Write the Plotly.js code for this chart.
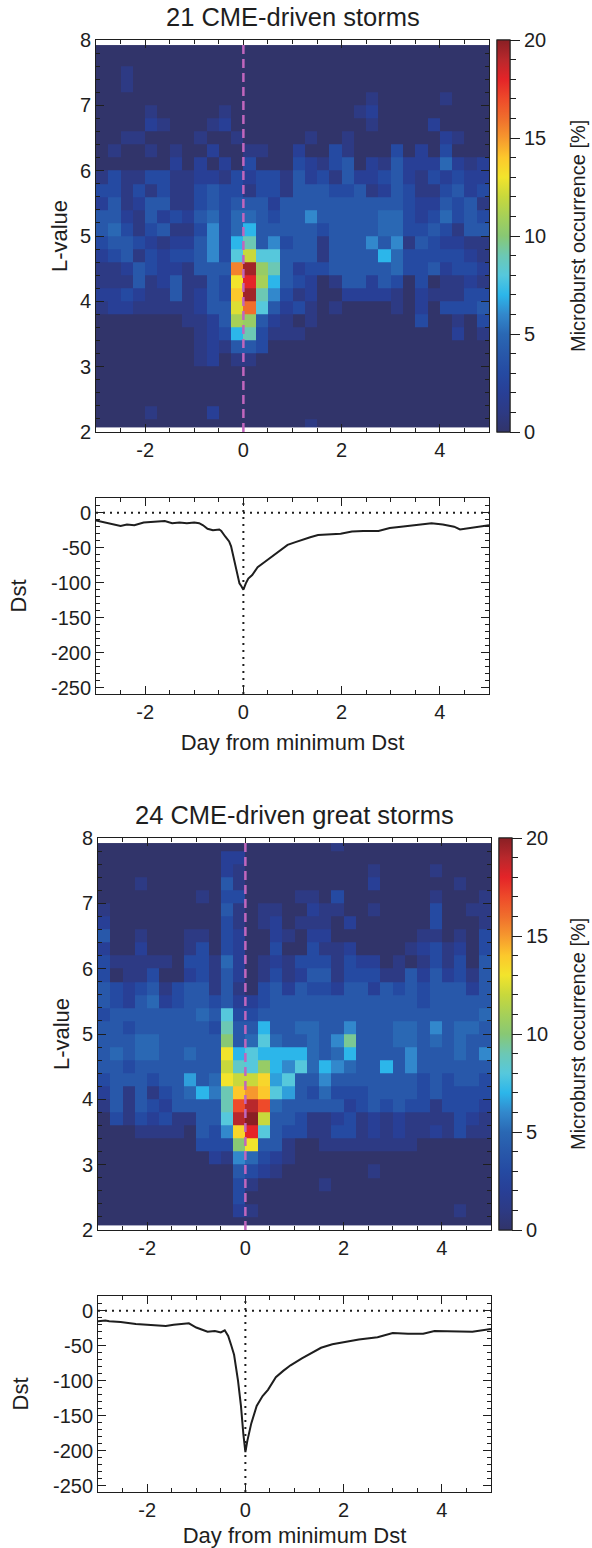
<!DOCTYPE html>
<html><head><meta charset="utf-8">
<script src="https://cdn.plot.ly/plotly-3.0.1.min.js"></script>
<style>html,body{margin:0;padding:0;background:#fff}#chart{width:592px;height:1548px}</style>
</head><body><div id="chart"></div>
<script>
// ---------------- DATA ----------------
const panelTitles = ['21 CME-driven storms', '24 CME-driven great storms'];
const colorbarTitle = 'Microburst occurrence [%]';
const dayBinEdges = [-3,-2.75,-2.5,-2.25,-2,-1.75,-1.5,-1.25,-1,-0.75,-0.5,-0.25,0,0.25,0.5,0.75,1,1.25,1.5,1.75,2,2.25,2.5,2.75,3,3.25,3.5,3.75,4,4.25,4.5,4.75,5];
const lBinEdges = [2.08,2.2,2.4,2.6,2.8,3.0,3.2,3.4,3.6,3.8,4.0,4.2,4.4,4.6,4.8,5.0,5.2,5.4,5.6,5.8,6.0,6.2,6.4,6.6,6.8,7.0,7.2,7.4,7.6,7.8,7.92];
const minDstDay = 0;

// microburst occurrence [%], rows listed from highest L (top) to lowest L (bottom)
const stormOccurrenceTopDown = [
[0,0,0,0,0,0,0,0,0,0,0,0,0,0,0,0, 0,0,0,0,0,0,0,0,0,0,0,0,0,0,0,0],
[0,0,0,0,0,0,0,0,0,0,0,0,0,0,0,0, 0,0,0,0,0,0,0,0,0,0,0,0,0,0,0,0],
[0,0,1,0,0,0,0,0,0,0,0,0,0,0,0,0, 0,0,0,0,0,0,0,0,0,0,0,0,0,0,0,0],
[0,0,1,0,0,0,0,0,0,0,0,0,0,0,0,0, 0,0,0,0,0,0,0,0,0,0,0,0,0,0,0,0],
[0,0,0,0,0,0,0,0,0,0,0,0,0,0,0,0, 0,0,0,0,0,0,1,0,0,0,0,0,1,0,0,0],
[0,0,0,0,1,0,0,0,0,0,1,0,0,0,0,0, 0,0,0,0,0,1,2,0,0,0,0,0,0,0,0,0],
[0,0,0,0,2,1,0,0,0,1,2,0,0,0,0,0, 0,0,0,0,0,0,1,0,0,0,0,2,0,0,0,0],
[0,0,1,1,0,0,0,0,1,0,0,1,0,0,0,0, 0,1,0,0,1,0,0,0,0,0,0,0,2,1,0,0],
[0,1,0,0,1,0,1,0,0,2,0,0,1,1,0,0, 2,0,0,3,1,0,0,0,3,0,2,0,3,0,0,0],
[0,0,0,0,0,0,2,0,2,0,2,0,3,0,0,0, 3,2,1,3,4,0,2,1,4,2,2,2,5,2,1,2],
[1,3,1,1,3,3,1,1,2,2,1,3,2,3,3,1, 4,2,3,1,4,2,2,3,4,2,1,3,2,3,2,2],
[3,3,1,3,1,3,1,1,3,4,3,3,1,3,3,1, 4,4,4,3,3,4,1,2,4,3,1,1,3,4,2,3],
[2,4,1,2,4,4,1,1,3,4,3,4,4,4,2,4, 4,4,4,4,4,4,4,4,4,3,2,2,4,3,4,1],
[4,4,2,1,4,2,3,2,4,5,3,5,5,4,3,4, 4,6,4,4,4,4,4,5,5,3,2,3,5,3,4,3],
[4,5,3,1,3,4,1,1,3,6,3,5,7,4,4,4, 4,4,3,4,4,4,4,5,5,3,3,4,3,1,4,4],
[3,4,4,3,2,1,2,2,4,6,3,7,9,4,6,3, 4,4,1,4,4,4,6,4,6,1,4,3,2,2,1,1],
[2,3,4,1,3,2,3,3,4,6,3,8,12,8,8,4, 4,4,1,4,4,4,4,7,5,3,3,3,3,3,2,1],
[1,1,2,4,3,2,2,1,4,4,4,15.5,19.5,10.5,9,4, 2,3,3,4,4,4,4,4,5,3,3,4,2,3,3,2],
[1,1,1,4,1,2,4,1,1,4,3,13,18,11,7,4, 3,2,0,1,4,4,2,4,3,0,3,0,1,1,2,1],
[2,2,3,2,1,1,4,1,2,4,3,14,19.5,9,6,3, 1,2,0,0,2,2,2,2,1,0,2,1,1,1,3,3],
[1,2,2,1,1,1,1,1,2,4,4,12.5,16,8,4,2, 3,1,0,1,0,0,0,0,1,0,2,0,3,3,3,4],
[0,0,0,0,0,0,0,1,1,2,4,11,10.5,4,2,1, 0,1,0,0,0,0,0,0,0,0,3,0,0,1,0,3],
[0,0,0,0,0,0,0,0,1,2,3,7,9,3,1,1, 1,0,0,0,0,0,0,0,0,0,0,0,0,2,0,1],
[0,0,0,0,0,0,0,0,1,2,1,4,4,3,0,0, 0,0,0,0,0,0,0,0,0,0,0,0,0,0,0,0],
[0,0,0,0,0,0,0,0,1,2,0,1,1,0,0,0, 0,0,0,0,0,0,0,0,0,0,0,0,0,0,0,0],
[0,0,0,0,0,0,0,0,0,0,0,0,0,0,0,0, 0,0,0,0,0,0,0,0,0,0,0,0,0,0,0,0],
[0,0,0,0,0,0,0,0,0,0,0,0,0,0,0,0, 0,0,0,0,0,0,0,0,0,0,0,0,0,0,0,0],
[0,0,0,0,0,0,0,0,0,0,0,0,0,0,0,0, 0,0,0,0,0,0,0,0,0,0,0,0,0,0,0,0],
[0,0,0,0,1,0,0,0,0,2,0,0,0,0,0,0, 0,0,0,0,0,0,0,0,0,0,0,0,0,0,0,0],
[0,0,0,0,0,0,0,0,0,0,0,0,0,0,0,0, 0,1,0,0,0,0,0,0,0,0,0,0,0,0,0,0]
];

const greatOccurrenceTopDown = [
[0,0,0,0,0,0,0,0,0,0,0,0,0,0,0,0, 0,0,0,1,0,0,0,0,0,0,0,0,0,0,0,0],
[0,0,0,0,0,0,0,0,0,0,2,2,0,0,0,0, 0,0,0,0,0,0,0,0,0,0,0,0,0,0,0,0],
[0,0,0,0,0,0,0,0,0,0,2,1,0,0,0,0, 0,0,0,0,0,0,1,0,0,0,0,1,0,0,0,0],
[0,0,0,1,0,0,0,0,0,0,4,1,0,0,0,0, 0,0,0,0,0,0,2,0,0,0,0,0,0,1,0,0],
[0,0,0,0,0,0,0,0,1,0,3,3,0,0,0,0, 1,1,0,3,0,0,0,0,0,0,0,1,0,0,0,1],
[1,0,0,0,0,0,0,0,0,0,4,1,0,1,1,0, 0,2,1,1,0,0,1,0,0,0,0,3,0,0,1,1],
[2,0,0,0,0,0,0,0,0,0,3,1,0,1,2,0, 1,1,1,0,2,0,0,0,0,0,0,3,0,0,0,1],
[4,0,0,1,0,0,0,1,1,0,3,2,0,0,2,1, 0,2,2,0,0,0,0,0,0,0,1,1,0,1,0,3],
[2,0,0,2,0,0,0,1,3,0,3,2,0,0,3,0, 0,3,1,1,2,0,0,0,0,1,2,3,1,2,0,3],
[3,1,1,1,1,1,0,3,3,1,5,2,0,1,2,1, 3,3,3,1,3,2,2,0,1,0,1,3,1,3,0,4],
[3,0,1,1,3,0,0,2,3,1,4,2,0,1,3,1, 2,4,4,1,3,3,3,1,1,4,2,4,2,3,1,4],
[4,3,2,3,4,1,3,4,4,1,4,1,0,3,4,2, 4,3,3,2,4,4,2,4,3,4,3,4,4,4,2,4],
[4,3,2,4,5,2,3,4,4,3,4,2,2,3,4,4, 4,4,4,4,4,4,4,4,4,4,3,4,4,4,4,4],
[3,4,4,4,4,4,4,4,5,4,8,3,3,4,4,4, 4,4,4,4,4,4,4,4,4,4,4,4,4,4,4,5],
[4,4,3,4,4,4,4,4,4,3,9,4,4,7,4,4, 5,5,4,4,6,4,4,4,5,5,4,6,4,5,5,4],
[4,4,4,5,5,4,4,4,4,4,10,4,5,8,5,4, 4,5,4,6,9.5,4,4,4,5,5,4,5,4,5,4,4],
[4,5,4,5,5,4,4,5,4,4,13,7,8,7,7,7, 7,5,4,5,7,4,4,4,4,6,4,4,4,5,4,6],
[4,4,3,4,4,4,4,4,4,4,12,8.5,8,10.5,7,6, 8,5,7,6,5,4,4,7,4,6,4,4,4,4,4,4],
[3,4,4,4,3,4,4,6.5,4,5,13,12,12,13.5,6.5,8, 4,4,6,4,4,4,4,4,4,4,3,4,3,4,4,3],
[2,4,1,4,1,3,4,5,7,5.5,9,14,15,14,8,6.5, 4,3,5,3,3,3,4,4,4,4,3,4,3,3,3,3],
[1,4,1,4,3,2,4,4,4,4,9,17,19,17,5,4, 4,4,4,4,2,3,4,3,4,3,3,1,3,3,3,2],
[0,3,1,3,2,3,1,1,4,4,8,19,20,12,4,4, 3,1,1,2,3,1,2,1,2,1,1,1,1,3,2,1],
[0,0,0,1,1,1,1,0,4,3,6,13.5,18,8,4,3, 3,1,1,3,3,1,2,1,2,1,1,2,1,3,1,1],
[0,0,0,0,0,0,0,0,3,3,3,10,13,4,4,1, 0,0,1,1,1,1,1,1,1,1,0,0,0,0,0,0],
[0,0,0,0,0,0,0,0,0,2,1,6,5,3,2,1, 0,0,0,0,0,0,0,0,0,0,0,0,0,0,0,0],
[0,0,0,0,0,0,0,0,0,0,0,4,3,2,1,0, 0,0,0,0,0,0,1,0,0,0,0,0,0,0,0,0],
[0,0,0,0,0,0,0,0,0,0,0,3,1,0,0,0, 0,0,1,0,0,0,0,0,0,0,0,0,0,0,0,0],
[0,0,0,0,0,0,0,0,0,0,0,3,0,0,0,0, 0,0,0,0,0,0,0,0,0,0,0,0,0,0,0,0],
[0,0,0,0,0,0,0,0,0,0,0,2,1,0,0,0, 0,0,0,0,0,0,0,0,0,0,0,0,0,1,0,0],
[0,0,0,0,0,0,0,0,0,0,0,0,0,0,0,0, 0,0,0,0,0,0,0,0,0,0,0,0,0,0,0,0]
];

// superposed epoch Dst [nT]
const stormDstDays = [-3,-2.87,-2.72,-2.5,-2.37,-2.22,-2.03,-1.88,-1.72,-1.6,-1.45,-1.3,-1.15,-1.0,-0.9,-0.82,-0.73,-0.62,-0.49,-0.45,-0.37,-0.29,-0.25,-0.19,-0.13,-0.08,-0.04,0,0.05,0.1,0.18,0.29,0.44,0.6,0.75,0.9,1.06,1.21,1.36,1.52,1.75,1.98,2.21,2.44,2.75,2.98,3.21,3.44,3.67,3.83,4.06,4.29,4.41,4.6,4.83,5.0];
const stormDst = [-11,-13,-15,-19,-17,-18,-14,-13,-13,-12,-15,-14,-15,-14,-15,-18,-23,-25,-24,-26,-34,-41,-48,-67,-86,-101,-105,-110,-101,-94,-89,-78,-70,-62,-54,-46,-42,-38,-35,-32,-31,-30,-27,-26,-26,-22,-20,-18,-17,-15,-17,-20,-24,-22,-20,-18];
const greatDstDays = [-3,-2.85,-2.77,-2.54,-2.23,-1.92,-1.62,-1.46,-1.15,-1.0,-0.85,-0.77,-0.62,-0.5,-0.42,-0.35,-0.29,-0.23,-0.15,-0.09,-0.04,0,0.04,0.12,0.23,0.35,0.46,0.62,0.77,0.92,1.15,1.38,1.54,1.77,2.0,2.31,2.69,3.0,3.31,3.62,3.85,4.23,4.62,5.0];
const greatDst = [-15,-14,-15,-16,-19,-21,-22,-20,-18,-24,-28,-30,-29,-31,-28,-36,-49,-63,-100,-136,-177,-202,-186,-161,-136,-122,-113,-95,-86,-78,-68,-59,-53,-48,-45,-41,-38,-32,-33,-33,-29,-29,-30,-26];

const dayTicks = [-2,0,2,4];
const dayTickText = ['-2','0','2','4'];
const lTicks = [2,3,4,5,6,7,8];
const dstTicks = [-250,-200,-150,-100,-50,0];
const dstTickText = ['-250','-200','-150','-100','-50','0'];
const cbTicks = [0,5,10,15,20];
const cbMinorTicks = [0,1,2,3,4,5,6,7,8,9,10,11,12,13,14,15,16,17,18,19,20];

// ---------------- STYLE / LAYOUT ----------------
const W = 592, H = 1548;
const FONT = 'Liberation Sans, Arial, Helvetica, sans-serif';
const INK = '#1e1e1e';
const py = v => 1 - v / H;           // pixel row -> paper y
const px = v => v / W;               // pixel col -> paper x

const colorscale = [
  [0.00,'#31346a'],[0.05,'#2d3a84'],[0.10,'#283f96'],[0.15,'#254aa2'],[0.20,'#2858aa'],
  [0.25,'#2a68b4'],[0.30,'#3288cc'],[0.35,'#2cb6ea'],[0.40,'#56c8dc'],[0.45,'#6cc8b4'],
  [0.50,'#88c874'],[0.55,'#a6d058'],[0.60,'#c8d83c'],[0.65,'#f2e42c'],[0.70,'#fcc82c'],
  [0.75,'#f6982e'],[0.80,'#f06e2c'],[0.85,'#ee4a2a'],[0.90,'#e42428'],[0.95,'#b8282c'],[1.00,'#8a1f24']
];

const panels = [
  {hm:[40,432], dst:[498,694], xl:96, xr:489, titleY:17, z:stormOccurrenceTopDown, days:stormDstDays, dst_v:stormDst},
  {hm:[838,1230], dst:[1296,1492], xl:98, xr:491, titleY:815, z:greatOccurrenceTopDown, days:greatDstDays, dst_v:greatDst}
];

const tickFont = {family:FONT, size:20, color:INK};
const titleFont = {family:FONT, size:22, color:INK};
const cbTitleFont = {family:FONT, size:20, color:INK};

function baseAxis(extra){
  return Object.assign({
    showline:true, linecolor:INK, linewidth:1, mirror:'ticks',
    ticks:'inside', ticklen:8, tickwidth:1, tickcolor:INK,
    showgrid:false, zeroline:false, tickfont:tickFont, fixedrange:true
  }, extra);
}

const data = [];
const layout = {
  width:W, height:H, margin:{l:0,r:0,t:0,b:0},
  paper_bgcolor:'#fff', plot_bgcolor:'#fff', showlegend:false,
  font:{family:FONT, color:INK}, annotations:[], shapes:[]
};

panels.forEach((p, i) => {
  const hx = 'x' + (2*i+1), hy = 'y' + (2*i+1);
  const dx = 'x' + (2*i+2), dy = 'y' + (2*i+2);
  const xdom = [px(p.xl), px(p.xr)];
  const zBottomUp = p.z.slice().reverse();
  const cbCommon = {
    x: px(p.xr + 8), xanchor:'left', xpad:0, ypad:0,
    y: py((p.hm[0]+p.hm[1])/2), yanchor:'middle',
    len: p.hm[1]-p.hm[0], lenmode:'pixels', thickness:13, thicknessmode:'pixels',
    outlinewidth:1, outlinecolor:INK, ticks:'outside', tickcolor:INK, tickwidth:1
  };
  data.push({
    type:'heatmap', x:dayBinEdges, y:lBinEdges, z:zBottomUp,
    xaxis:hx, yaxis:hy, zmin:0, zmax:20, colorscale:colorscale, zsmooth:false,
    hoverinfo:'skip',
    colorbar:Object.assign({}, cbCommon, {tickvals:cbTicks, ticklen:10, tickfont:tickFont})
  });
  data.push({
    type:'heatmap', x:dayBinEdges, y:lBinEdges, z:zBottomUp,
    xaxis:hx, yaxis:hy, zmin:0, zmax:20, colorscale:colorscale, zsmooth:false,
    hoverinfo:'skip',
    colorbar:Object.assign({}, cbCommon, {tickvals:cbMinorTicks, ticklen:6, showticklabels:false})
  });
  data.push({
    type:'scatter', mode:'lines', x:p.days, y:p.dst_v, xaxis:dx, yaxis:dy,
    line:{color:INK, width:2}, hoverinfo:'skip'
  });

  const hxName = 'xaxis' + (2*i+1), hyName = 'yaxis' + (2*i+1);
  const dxName = 'xaxis' + (2*i+2), dyName = 'yaxis' + (2*i+2);
  layout[hxName] = baseAxis({domain:xdom, anchor:hy, range:[-3,5], tickvals:dayTicks, ticktext:dayTickText,
    minor:{dtick:0.5, tick0:0, ticks:'inside', ticklen:4, tickcolor:INK}});
  layout[hyName] = baseAxis({domain:[py(p.hm[1]), py(p.hm[0])], anchor:hx, range:[2,8], tickvals:lTicks,
    minor:{dtick:0.2, tick0:2, ticks:'inside', ticklen:4, tickcolor:INK},
    title:{text:'L-value', font:titleFont, standoff:6}});
  layout[dxName] = baseAxis({domain:xdom, anchor:dy, range:[-3,5], tickvals:dayTicks, ticktext:dayTickText,
    minor:{dtick:0.5, tick0:0, ticks:'inside', ticklen:4, tickcolor:INK},
    title:{text:'Day from minimum Dst', font:titleFont, standoff:12}});
  layout[dyName] = baseAxis({domain:[py(p.dst[1]), py(p.dst[0])], anchor:dx, range:[-259,21], tickvals:dstTicks, ticktext:dstTickText,
    minor:{dtick:10, tick0:0, ticks:'inside', ticklen:4, tickcolor:INK},
    title:{text:'Dst', font:titleFont, standoff:18}});

  layout.annotations.push({
    text:panelTitles[i], xref:'paper', yref:'paper', x:(xdom[0]+xdom[1])/2, y:py(p.titleY),
    xanchor:'center', yanchor:'middle', showarrow:false, font:{family:FONT, size:25.5, color:INK}
  });
  layout.annotations.push({
    text:colorbarTitle, xref:'paper', yref:'paper', x:px(578), y:py((p.hm[0]+p.hm[1])/2),
    xanchor:'center', yanchor:'middle', textangle:-90, showarrow:false, font:cbTitleFont
  });
  layout.shapes.push({type:'line', xref:hx, yref:hy+' domain', x0:minDstDay, x1:minDstDay, y0:0, y1:1,
    line:{color:'#c066bd', width:2.5, dash:'9px,5px'}, layer:'above'});
  layout.shapes.push({type:'line', xref:dx, yref:dy+' domain', x0:minDstDay, x1:minDstDay, y0:0, y1:1,
    line:{color:INK, width:2, dash:'2px,5px'}, layer:'below'});
  layout.shapes.push({type:'line', xref:dx+' domain', yref:dy, x0:0, x1:1, y0:0, y1:0,
    line:{color:INK, width:2, dash:'2px,5px'}, layer:'below'});
});

Plotly.newPlot('chart', data, layout, {displayModeBar:false, staticPlot:true});
</script>
</body></html>
